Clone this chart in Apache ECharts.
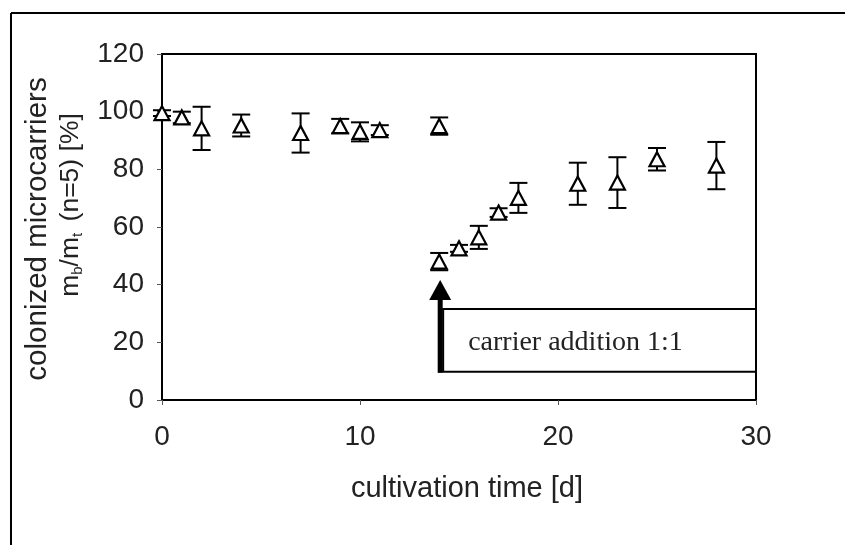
<!DOCTYPE html>
<html>
<head>
<meta charset="utf-8">
<script src="https://cdn.jsdelivr.net/npm/echarts@6/dist/echarts.min.js"></script>
<style>
html,body{margin:0;padding:0;background:#fff;}
#c{width:845px;height:545px;}
</style>
</head>
<body>
<div id="c"></div>
<script>
// Before carrier addition
var days1 = [0, 1, 2, 4, 7, 9, 10, 11, 14];
var mean1 = [99.5, 98, 94.2, 95.2, 92.6, 95, 93, 93.6, 95];
var err1  = [1, 2, 7.5, 3.8, 6.8, 2.5, 3.3, 1.7, 3];
// After carrier addition 1:1
var days2 = [14, 15, 16, 17, 18, 21, 23, 25, 28];
var mean2 = [48, 52.6, 56.4, 65, 70.1, 75, 75.4, 83.5, 81.3];
var err2  = [3, 1.2, 4, 1.5, 5.2, 7.3, 8.8, 3.9, 8.2];

var xTicks = [0, 10, 20, 30];
var yTicks = [0, 20, 40, 60, 80, 100, 120];

// annotation: box [xLeft, yBottom, xRight, yTop], arrow [x, yFrom, yTip]
var annotBox = [14.2, 9.8, 30, 31.6];
var annotArrow = [14.05, 9.4, 41.6];
var annotText = 'carrier addition 1:1';

var xTitle = 'cultivation time [d]';
var yTitle1 = 'colonized microcarriers';

function pts(d, m) { return d.map(function (v, i) { return [v, m[i]]; }); }
function errs(d, m, e) { return d.map(function (v, i) { return [v, m[i] - e[i], m[i] + e[i]]; }); }

var chart = echarts.init(document.getElementById('c'));

var sans = 'Arial, "Liberation Sans", sans-serif';
var serif = '"Times New Roman", "Liberation Serif", serif';

function errRender(params, api) {
  var x = api.value(0);
  var lo = api.coord([x, api.value(1)]);
  var hi = api.coord([x, api.value(2)]);
  var w = 9;
  var st = { stroke: '#000', lineWidth: 2 };
  return {
    type: 'group',
    children: [
      { type: 'line', shape: { x1: hi[0], y1: hi[1], x2: lo[0], y2: lo[1] }, style: st },
      { type: 'line', shape: { x1: hi[0] - w, y1: hi[1], x2: hi[0] + w, y2: hi[1] }, style: st },
      { type: 'line', shape: { x1: lo[0] - w, y1: lo[1], x2: lo[0] + w, y2: lo[1] }, style: st }
    ]
  };
}

function annotRender(params, api) {
  var tl = api.coord([api.value(0), api.value(3)]);
  var br = api.coord([api.value(2), api.value(1)]);
  var base = api.coord([api.value(4), api.value(5)]);
  var tip = api.coord([api.value(4), api.value(6)]);
  var headH = 20, headW = 11;
  return {
    type: 'group',
    children: [
      { type: 'rect', shape: { x: tl[0], y: tl[1], width: br[0] - tl[0], height: br[1] - tl[1] },
        style: { fill: '#fff', stroke: '#000', lineWidth: 2 } },
      { type: 'text', x: tl[0] + 25, y: (tl[1] + br[1]) / 2 + 2,
        style: { text: annotText, font: '28px ' + serif, fill: '#222', align: 'left', verticalAlign: 'middle' } },
      { type: 'line', shape: { x1: base[0], y1: base[1], x2: tip[0], y2: tip[1] + headH - 2 },
        style: { stroke: '#000', lineWidth: 5 } },
      { type: 'polygon', shape: { points: [[tip[0], tip[1]], [tip[0] - headW, tip[1] + headH], [tip[0] + headW, tip[1] + headH]] },
        style: { fill: '#000' } }
    ]
  };
}

var triStyle = { color: '#fff', borderColor: '#000', borderWidth: 2.2, opacity: 1 };

chart.setOption({
  animation: false,
  backgroundColor: '#fff',
  grid: { left: 162, right: 89, top: 54, bottom: 145, show: true, borderColor: '#000', borderWidth: 2, backgroundColor: 'transparent' },
  xAxis: {
    type: 'value', min: 0, max: 30, interval: 10,
    axisLine: { show: true, onZero: false, lineStyle: { color: '#000', width: 2 } },
    axisTick: { show: true, inside: false, length: 5, lineStyle: { color: '#555', width: 1 } },
    axisLabel: { color: '#222', fontSize: 28, fontFamily: sans, margin: 23,
      formatter: function (v) { return xTicks.indexOf(v) >= 0 ? String(v) : ''; } },
    splitLine: { show: false },
    name: xTitle, nameLocation: 'middle', nameGap: 74,
    nameTextStyle: { color: '#222', fontSize: 29, fontFamily: sans, padding: [0, 0, 0, 16] }
  },
  yAxis: {
    type: 'value', min: 0, max: 120, interval: 20,
    axisLine: { show: true, onZero: false, lineStyle: { color: '#000', width: 2 } },
    axisTick: { show: true, inside: false, length: 5, lineStyle: { color: '#555', width: 1 } },
    axisLabel: { color: '#222', fontSize: 28, fontFamily: sans, margin: 18,
      formatter: function (v) { return yTicks.indexOf(v) >= 0 ? String(v) : ''; } },
    splitLine: { show: false }
  },
  graphic: [
    { type: 'line', shape: { x1: 11, y1: 13, x2: 845, y2: 13 }, style: { stroke: '#000', lineWidth: 2 } },
    { type: 'line', shape: { x1: 11, y1: 13, x2: 11, y2: 545 }, style: { stroke: '#000', lineWidth: 2 } },
    { type: 'text', x: 38, y: 229, rotation: Math.PI / 2,
      style: { text: yTitle1, font: '29.5px ' + sans, fill: '#222', align: 'center', verticalAlign: 'middle' } },
    { type: 'text', x: 71, y: 205, rotation: Math.PI / 2,
      style: { text: 'm{sub|b}/m{subt|t} (n=5) [%]', font: '26.5px ' + sans, fill: '#222', align: 'center', verticalAlign: 'middle',
        rich: {
          sub: { fontSize: 15, fontFamily: sans, fill: '#222', padding: [13, 0, 0, 0] },
          subt: { fontSize: 15, fontFamily: sans, fill: '#222', padding: [13, 4, 0, 0] }
        } } }
  ],
  series: [
    { type: 'custom', name: 'err1', data: errs(days1, mean1, err1), renderItem: errRender, z: 2, silent: true },
    { type: 'custom', name: 'err2', data: errs(days2, mean2, err2), renderItem: errRender, z: 2, silent: true },
    { type: 'scatter', name: 'before', data: pts(days1, mean1), symbol: 'triangle', symbolSize: [15, 14], itemStyle: triStyle, z: 3 },
    { type: 'scatter', name: 'after', data: pts(days2, mean2), symbol: 'triangle', symbolSize: [15, 14], itemStyle: triStyle, z: 3 },
    { type: 'custom', name: 'annotation', data: [annotBox.concat(annotArrow)], renderItem: annotRender, z: 4, silent: true }
  ]
});
</script>
</body>
</html>
